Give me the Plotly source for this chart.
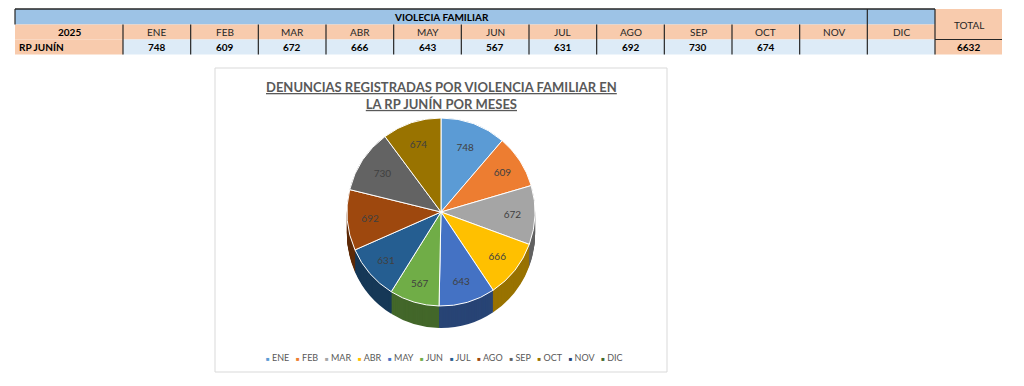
import plotly.graph_objects as go

# ---------------- data ----------------
year_label = "2025"
row_label = "RP JUNÍN"
table_title = "VIOLECIA FAMILIAR"
months = ["ENE", "FEB", "MAR", "ABR", "MAY", "JUN", "JUL", "AGO", "SEP", "OCT", "NOV", "DIC"]
values = [748, 609, 672, 666, 643, 567, 631, 692, 730, 674, None, None]
total_label = "TOTAL"
chart_title = ["DENUNCIAS REGISTRADAS POR VIOLENCIA FAMILIAR EN", "LA RP JUNÍN POR MESES"]

# ---------------- style ----------------
W, H = 1024, 386
FONT = "Lato"
slice_colors = ["#5B9BD5", "#ED7D31", "#A5A5A5", "#FFC000", "#4472C4", "#70AD47",
                "#255E91", "#9E480E", "#636363", "#997300", "#264478", "#43682B"]


def darker(hex_color, f=0.6):
    h = hex_color.lstrip("#")
    r, g, b = (int(h[i:i + 2], 16) for i in (0, 2, 4))
    return "rgb(%d,%d,%d)" % (r * f, g * f, b * f)


def X(px):
    return px / W


def Y(py):
    return 1 - py / H


shapes = []
annotations = []


def rect(x0, y0, x1, y1, fill, line=None, lw=0):
    shapes.append(dict(type="rect", xref="paper", yref="paper",
                       x0=X(x0), x1=X(x1), y0=Y(y1), y1=Y(y0),
                       fillcolor=fill, line=dict(width=lw, color=line or fill), layer="below"))


def seg(x0, y0, x1, y1, color="#262626", lw=1.2):
    shapes.append(dict(type="line", xref="paper", yref="paper",
                       x0=X(x0), x1=X(x1), y0=Y(y0), y1=Y(y1),
                       line=dict(width=lw, color=color), layer="above"))


def text(x, y, s, size=10, color="#000000", bold=False, xanchor="center", family=FONT):
    annotations.append(dict(xref="paper", yref="paper", x=X(x), y=Y(y), text=("<b>%s</b>" % s) if bold else s,
                            showarrow=False, xanchor=xanchor, yanchor="middle",
                            font=dict(size=size, color=color, family=family)))


# ---------------- table ----------------
BLUE_HDR = "#9DC3E6"
ORANGE = "#F8CBAD"
LIGHT = "#DDEBF7"
tx0 = 15
first_w = 108
mx0 = tx0 + first_w
mx1 = 935
mw = (mx1 - mx0) / len(months)
tot_x1 = 1002
r0, r1, r2, r3 = 9, 24.5, 39.5, 54.5

rect(tx0, r0, mx1 - mw, r1, BLUE_HDR)
rect(mx1 - mw, r0, mx1, r1, BLUE_HDR)
rect(mx1, r0, tot_x1, r2, ORANGE)
rect(tx0, r1, mx1, r2, ORANGE)
rect(tx0, r2, mx0, r3, ORANGE)
rect(mx0, r2, mx1, r3, LIGHT)
rect(mx1, r2, tot_x1, r3, ORANGE)

seg(tx0, r0, mx1, r0, lw=1.5)
seg(tx0, r0, tx0, r1)
for i in range(len(months) + 1):
    xb = mx0 + i * mw
    top = r0 if i >= len(months) - 1 else r1
    seg(xb, top, xb, r3)
seg(mx1, r2, tot_x1, r2)

text((tx0 + mx1 - mw) / 2, (r0 + r1) / 2, table_title, bold=True)
text(tx0 + first_w / 2, (r1 + r2) / 2, year_label, bold=True)
text(tx0 + 2, (r2 + r3) / 2, row_label, bold=True, xanchor="left")
for i, (m, v) in enumerate(zip(months, values)):
    cx = mx0 + (i + 0.5) * mw
    text(cx, (r1 + r2) / 2, m, color="#262626")
    if v is not None:
        text(cx, (r2 + r3) / 2, str(v), bold=True)
text((mx1 + tot_x1) / 2, r1, total_label, color="#262626")
text((mx1 + tot_x1) / 2, (r2 + r3) / 2, str(sum(v for v in values if v is not None)), bold=True)

# ---------------- chart box ----------------
bx0, by0, bx1, by1 = 215, 68, 667, 372
rect(bx0, by0, bx1, by1, "#FFFFFF", line="#D9D9D9", lw=1)
ccx = (bx0 + bx1) / 2
annotations.append(dict(xref="paper", yref="paper", x=X(ccx), y=Y(95),
                        text="<br>".join("<b><u>%s</u></b>" % t for t in chart_title),
                        showarrow=False, xanchor="center", yanchor="middle",
                        font=dict(size=13, color="#595959", family=FONT)))

# custom legend
legend_items = []
for m, c in zip(months, slice_colors):
    legend_items.append("<span style='color:%s;font-size:6px'>■</span> %s" % (c, m))
annotations.append(dict(xref="paper", yref="paper", x=X(ccx + 3), y=Y(357),
                        text="&nbsp;&nbsp;&nbsp;".join(legend_items),
                        showarrow=False, xanchor="center", yanchor="middle",
                        font=dict(size=9, color="#595959", family=FONT)))

# ---------------- pie (pseudo 3D) ----------------
pcx, pcy, rad = 441, 212, 94
depth = 22
fig = go.Figure()
labels = months
for off in range(depth, 0, -1):
    fig.add_trace(go.Pie(
        labels=labels, values=values, sort=False, direction="clockwise", rotation=0,
        marker=dict(colors=[darker(c) for c in slice_colors], line=dict(width=0)),
        textinfo="none", hoverinfo="skip", showlegend=False,
        domain=dict(x=[X(pcx - rad), X(pcx + rad)], y=[Y(pcy + off + rad), Y(pcy + off - rad)]),
    ))
fig.add_trace(go.Pie(
    labels=labels, values=values, sort=False, direction="clockwise", rotation=0,
    marker=dict(colors=slice_colors, line=dict(color="#FFFFFF", width=1)),
    text=[str(v) if v is not None else "" for v in values],
    textinfo="text", textposition="inside", insidetextorientation="horizontal",
    textfont=dict(size=10, color="#404040", family=FONT),
    showlegend=False,
    domain=dict(x=[X(pcx - rad), X(pcx + rad)], y=[Y(pcy + rad), Y(pcy - rad)]),
))

fig.update_layout(
    width=W, height=H, margin=dict(l=0, r=0, t=0, b=0),
    paper_bgcolor="#FFFFFF", plot_bgcolor="#FFFFFF",
    shapes=shapes, annotations=annotations, showlegend=False,
    font=dict(family=FONT),
)

fig.write_html("out.html", config={"displayModeBar": False},
               post_script="document.body.style.margin='0';document.body.style.overflow='hidden';")
